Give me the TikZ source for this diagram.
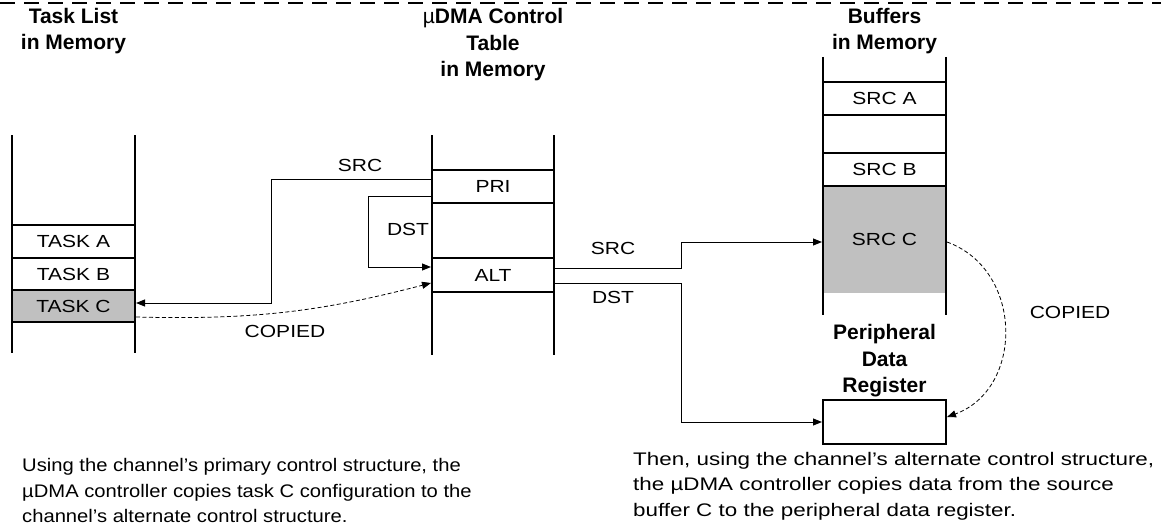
\documentclass[tikz,border=0pt]{standalone}
\usepackage{fontspec}
\setmainfont{Liberation Sans}
\newfontfamily\cellfont{Liberation Sans}[FakeStretch=1.2]
\newfontfamily\notefont{Liberation Sans}[FakeStretch=1.11]
\newfontfamily\notewidefont{Liberation Sans}[FakeStretch=1.23]
\usetikzlibrary{arrows.meta,calc,positioning}
\definecolor{Shade}{RGB}{192,192,192}

\tikzset{
  column/.style={line width=2pt},
  cell/.style={draw, line width=2pt, minimum width=123pt, minimum height=33pt,
    inner sep=0pt, font=\cellfont\fontsize{17.5}{20}\selectfont},
  heading/.style={align=center, font=\bfseries\fontsize{21}{26.5}\selectfont},
  tag/.style={font=\cellfont\fontsize{17.5}{20}\selectfont},
  conn/.style={line width=1pt, -{Triangle[length=9pt,width=7pt]}},
  copied/.style={line width=0.8pt, dash pattern=on 4pt off 2.5pt, -{Triangle[length=9pt,width=7pt]}},
  note/.style={align=left, anchor=north west, inner sep=0pt,
    font=\notefont\fontsize{18.2}{25.5}\selectfont}
}

\begin{document}
\begin{tikzpicture}[x=1pt, y=-1pt]
    %% Background
    \useasboundingbox (0,0) rectangle (1161,527);
    \draw[line width=1.5pt, dash pattern=on 15pt off 9pt] (0,3) -- (1161,3);

    %% Task list
    \node[heading] (tasklist) at (73.5,31) {Task List\\in Memory};
    \draw[column] (12,135) -- (12,353) (135,135) -- (135,353);
    \node[cell] (taskA) at (73.5,241.5) {TASK A};
    \node[cell, minimum height=32pt] (taskB) at (73.5,274) {TASK B};
    \node[cell, fill=Shade, minimum height=32pt] (taskC) at (73.5,306) {TASK C};

    %% Control table
    \node[heading] (ctrltable) at (493,45) {{\mdseries µ}DMA Control\\Table\\in Memory};
    \draw[column] (432,135) -- (432,355) (554,135) -- (554,355);
    \node[cell, minimum width=122pt] (pri) at (493,186.5) {PRI};
    \node[cell, minimum width=122pt, minimum height=34pt] (alt) at (493,275) {ALT};

    %% Buffers
    \node[heading] (buffers) at (884.5,31) {Buffers\\in Memory};
    \node[cell, draw=none, fill=Shade, minimum height=107pt] (srcC) at (884.5,239.5) {SRC C};
    \draw[column] (823,57) -- (823,315) (946,57) -- (946,315);
    \node[cell] (srcA) at (884.5,98) {SRC A};
    \node[cell] (srcB) at (884.5,169.5) {SRC B};

    %% Peripheral data register
    \node[heading] (periph) at (884.5,361) {Peripheral\\Data\\Register};
    \node[cell, minimum height=44pt] (reg) at (884.5,422) {};

    %% Connectors
    \draw[conn] ([yshift=7.5pt]pri.west) -- ++(-160,0) |- ([yshift=3pt]taskC.east);
    \draw[conn] ([yshift=-9.5pt]pri.west) -- ++(-63,0) |- ([yshift=8pt]alt.west);
    \draw[copied] ([yshift=-11pt]taskC.east) to[bend right=8] ([yshift=-8pt]alt.west);
    \draw[conn] ([yshift=7pt]alt.east) -- ++(126,0) |- ([yshift=-2.5pt]srcC.west);
    \draw[conn] ([yshift=-8pt]alt.east) -- ++(126,0) |- (reg.west);
    \draw[copied] ([yshift=-2.5pt]srcC.east) to[bend left=70, looseness=1.2] ([yshift=5pt]reg.east);

    \node[tag] (srcleft) at (360,165) {SRC};
    \node[tag] (dstleft) at (408,229) {DST};
    \node[tag] (copyleft) at (285,331) {COPIED};
    \node[tag] (srcright) at (613,248) {SRC};
    \node[tag] (dstright) at (613,297) {DST};
    \node[tag] (copyright) at (1070,312) {COPIED};

    %% Notes
    \node[note] (noteleft) at (22,458.5) {Using the channel’s primary control structure, the\\µDMA controller copies task C configuration to the\\channel’s alternate control structure.};
    \node[note, font=\notewidefont\fontsize{18.2}{25.5}\selectfont] (noteright) at (633,452) {Then, using the channel’s alternate control structure,\\the µDMA controller copies data from the source\\buffer C to the peripheral data register.};
\end{tikzpicture}
\end{document}
